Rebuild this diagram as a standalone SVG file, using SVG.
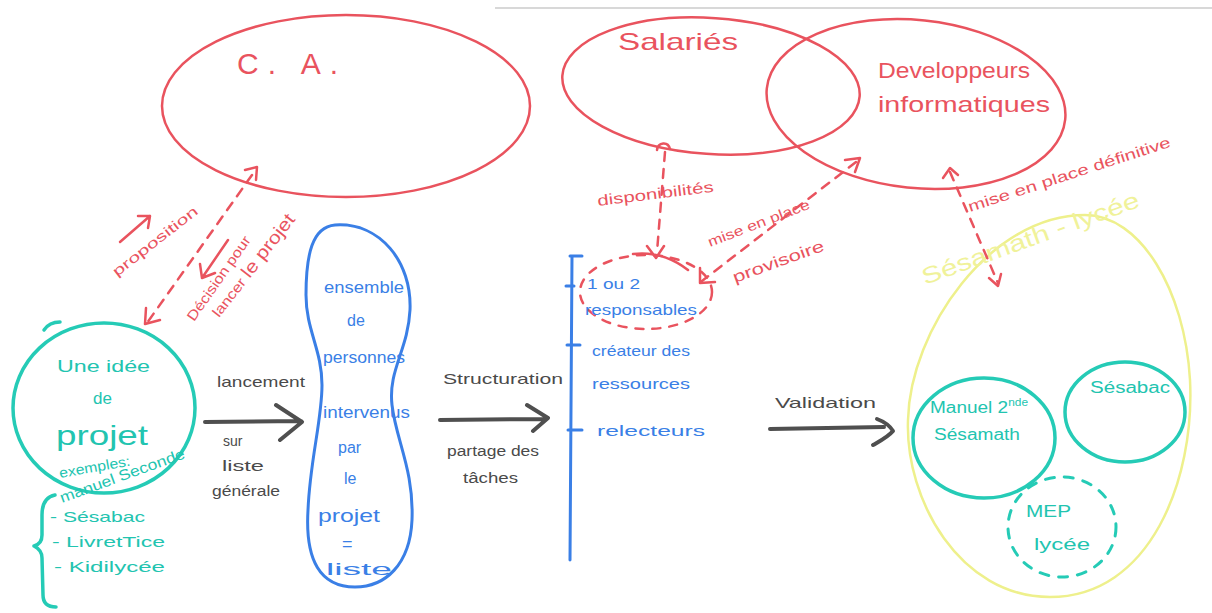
<svg xmlns="http://www.w3.org/2000/svg" width="1212" height="613" viewBox="0 0 1212 613">
<style>
text{font-family:"Liberation Sans","DejaVu Sans",sans-serif;}
.red{fill:none;stroke:#e9535e;stroke-width:2.5;stroke-linecap:round;stroke-linejoin:round}
.redd{fill:none;stroke:#e9535e;stroke-width:2.5;stroke-linecap:round;stroke-dasharray:9 8}
.rt{fill:#e9535e}
.teal{fill:none;stroke:#25cbb6;stroke-width:3.5;stroke-linecap:round;stroke-linejoin:round}
.tt{fill:#22c4b0}
.blue{fill:none;stroke:#3a7fe6;stroke-width:3;stroke-linecap:round;stroke-linejoin:round}
.bt{fill:#3a7fe6}
.grey{fill:none;stroke:#4f4f4f;stroke-width:4;stroke-linecap:round;stroke-linejoin:round}
.gt{fill:#4a4a4a}
.yel{fill:none;stroke:#eef08c;stroke-width:2.5}
</style>
<rect width="1212" height="613" fill="#ffffff"/>
<line x1="495" y1="8" x2="1212" y2="8" stroke="#d8d8d8" stroke-width="2"/>

<g id="ca">
<ellipse class="red" cx="346" cy="106" rx="184" ry="91"/>
<text class="rt" x="237" y="74" font-size="30" letter-spacing="9">C. A.</text>
</g>

<g id="salaries">
<ellipse class="red" cx="711" cy="86" rx="149" ry="68" transform="rotate(4 711 86)"/>
<text class="rt" x="618" y="50" font-size="24" textLength="120" lengthAdjust="spacingAndGlyphs">Salariés</text>
</g>

<g id="developpeurs">
<ellipse class="red" cx="916" cy="104" rx="150" ry="84" transform="rotate(6 916 104)"/>
<text class="rt" x="878" y="78" font-size="22" textLength="152" lengthAdjust="spacingAndGlyphs">Developpeurs</text>
<text class="rt" x="878" y="112" font-size="22" textLength="172" lengthAdjust="spacingAndGlyphs">informatiques</text>
</g>

<g id="idee">
<ellipse class="teal" cx="104" cy="408" rx="91" ry="85"/>
<path class="teal" d="M44,330 C48,324 54,322 60,322"/>
<text class="tt" x="57" y="372" font-size="17" textLength="93" lengthAdjust="spacingAndGlyphs">Une idée</text>
<text class="tt" x="93" y="404" font-size="17">de</text>
<text class="tt" x="56" y="445" font-size="28" textLength="92" lengthAdjust="spacingAndGlyphs">projet</text>
<text class="tt" x="60" y="478" font-size="14" textLength="72" lengthAdjust="spacingAndGlyphs" transform="rotate(-10 60 478)">exemples:</text>
<text class="tt" x="62" y="503" font-size="15" textLength="132" lengthAdjust="spacingAndGlyphs" transform="rotate(-20 62 503)">manuel Seconde</text>
<path class="teal" d="M55,495 C45,497 42,505 42,515 L42,535 C42,542 38,545 34,546 C38,548 42,551 42,558 L43,595 C43,603 47,607 56,607"/>
<text class="tt" x="50" y="522" font-size="15" textLength="95" lengthAdjust="spacingAndGlyphs">- Sésabac</text>
<text class="tt" x="52" y="547" font-size="15" textLength="113" lengthAdjust="spacingAndGlyphs">- LivretTice</text>
<text class="tt" x="54" y="572" font-size="15" textLength="111" lengthAdjust="spacingAndGlyphs">- Kidilycée</text>
</g>

<g id="liste">
<path class="blue" d="M335,225 C380,222 412,262 410,310 C408,350 388,370 392,405 C396,440 414,470 412,520 C410,565 385,587 355,587 C320,587 305,560 308,510 C310,460 322,420 322,385 C322,350 306,330 306,295 C306,255 312,227 335,225 Z"/>
<text class="bt" x="324" y="293" font-size="16" textLength="80" lengthAdjust="spacingAndGlyphs">ensemble</text>
<text class="bt" x="347" y="326" font-size="16">de</text>
<text class="bt" x="323" y="363" font-size="16" textLength="82" lengthAdjust="spacingAndGlyphs">personnes</text>
<text class="bt" x="323" y="418" font-size="16" textLength="87" lengthAdjust="spacingAndGlyphs">intervenus</text>
<text class="bt" x="338" y="453" font-size="16">par</text>
<text class="bt" x="344" y="484" font-size="16">le</text>
<text class="bt" x="318" y="522" font-size="19" textLength="62" lengthAdjust="spacingAndGlyphs">projet</text>
<text class="bt" x="342" y="550" font-size="18">=</text>
<text class="bt" x="326" y="575" font-size="17" textLength="66" lengthAdjust="spacingAndGlyphs">liste</text>
</g>

<g id="structure">
<path class="blue" d="M570,256 L582,256 M572,256 L570,560 M566,286 L574,286 M567,345 L580,345 M568,430 L582,430"/>
<ellipse cx="646" cy="292" rx="66" ry="37" fill="none" stroke="#e9535e" stroke-width="2.5" stroke-dasharray="8 9" stroke-linecap="round"/>
<text class="bt" x="587" y="289" font-size="15" textLength="53" lengthAdjust="spacingAndGlyphs">1 ou 2</text>
<text class="bt" x="585" y="315" font-size="15" textLength="112" lengthAdjust="spacingAndGlyphs">responsables</text>
<text class="bt" x="592" y="356" font-size="15" textLength="98" lengthAdjust="spacingAndGlyphs">créateur des</text>
<text class="bt" x="592" y="389" font-size="15" textLength="98" lengthAdjust="spacingAndGlyphs">ressources</text>
<text class="bt" x="597" y="436" font-size="15" textLength="108" lengthAdjust="spacingAndGlyphs">relecteurs</text>
</g>

<g id="sesamath-lycee">
<path class="yel" d="M1085,215 C1140,215 1185,290 1190,380 C1195,480 1150,597 1050,597 C960,597 905,500 908,420 C910,330 990,215 1085,215 Z"/>
<text x="925" y="285" font-size="23" fill="#f0f29a" textLength="230" lengthAdjust="spacingAndGlyphs" transform="rotate(-20 925 285)">Sésamath - lycée</text>
</g>

<g id="manuel">
<ellipse class="teal" cx="984" cy="438" rx="71" ry="60"/>
<text class="tt" x="930" y="413" font-size="16" textLength="98" lengthAdjust="spacingAndGlyphs">Manuel 2<tspan font-size="10" dy="-7">nde</tspan></text>
<text class="tt" x="934" y="440" font-size="16" textLength="86" lengthAdjust="spacingAndGlyphs">Sésamath</text>
</g>

<g id="sesabac">
<ellipse class="teal" cx="1125" cy="412" rx="60" ry="50"/>
<text class="tt" x="1090" y="393" font-size="16" textLength="80" lengthAdjust="spacingAndGlyphs">Sésabac</text>
</g>

<g id="mep">
<ellipse cx="1062" cy="527" rx="54" ry="50" fill="none" stroke="#25cbb6" stroke-width="3" stroke-dasharray="9 10" stroke-linecap="round"/>
<text class="tt" x="1026" y="517" font-size="16" textLength="45" lengthAdjust="spacingAndGlyphs">MEP</text>
<text class="tt" x="1034" y="550" font-size="16" textLength="56" lengthAdjust="spacingAndGlyphs">lycée</text>
</g>

<g id="connectors">
<path class="grey" d="M205,422 L301,421 M276,405 L302,422 L280,440"/>
<text class="gt" x="217" y="387" font-size="15" textLength="88" lengthAdjust="spacingAndGlyphs">lancement</text>
<text class="gt" x="223" y="446" font-size="14">sur</text>
<text class="gt" x="222" y="471" font-size="14" textLength="42" lengthAdjust="spacingAndGlyphs">liste</text>
<text class="gt" x="212" y="496" font-size="14" textLength="68" lengthAdjust="spacingAndGlyphs">générale</text>

<path class="grey" d="M440,420 L546,419 M527,405 L548,418 L533,431"/>
<text class="gt" x="443" y="384" font-size="15" textLength="120" lengthAdjust="spacingAndGlyphs">Structuration</text>
<text class="gt" x="447" y="456" font-size="14" textLength="92" lengthAdjust="spacingAndGlyphs">partage des</text>
<text class="gt" x="463" y="483" font-size="14" textLength="55" lengthAdjust="spacingAndGlyphs">tâches</text>

<path class="grey" d="M770,429 L884,427 M877,419 C885,422 890,426 893,431 C888,437 880,441 873,445"/>
<text class="gt" x="775" y="408" font-size="15" textLength="101" lengthAdjust="spacingAndGlyphs">Validation</text>

<path class="redd" d="M252,175 L147,323"/>
<path class="red" d="M245,170 L257,167 L256,180"/>
<path class="red" d="M146,308 L145,324 L160,320"/>
<path class="red" d="M120,242 L150,216 M138,216 L150,216 L148,228"/>
<text class="rt" x="117" y="277" font-size="14" textLength="104" lengthAdjust="spacingAndGlyphs" transform="rotate(-38 117 277)">proposition</text>
<path class="red" d="M228,240 L202,278 M200,264 L202,278 L215,273"/>
<text class="rt" x="194" y="322" font-size="14" textLength="100" lengthAdjust="spacingAndGlyphs" transform="rotate(-55 194 322)">Décision pour</text>
<text class="rt" x="219" y="318" font-size="14" textLength="125" lengthAdjust="spacingAndGlyphs" transform="rotate(-52 219 318)">lancer <tspan font-size="18">le projet</tspan></text>

<path class="redd" d="M665,152 L657,252"/>
<path class="red" d="M657,150 C658,142 668,141 670,149"/>
<path class="red" d="M647,246 L656,258 L664,246 M633,254 C650,252 670,256 688,270"/>
<text class="rt" x="598" y="206" font-size="15" textLength="117" lengthAdjust="spacingAndGlyphs" transform="rotate(-7 598 206)">disponibilités</text>

<path class="redd" d="M856,162 L702,281"/>
<path class="red" d="M845,160 L860,158 L855,172"/>
<path class="red" d="M700,268 L700,283 L715,282"/>
<text class="rt" x="710" y="247" font-size="14" textLength="108" lengthAdjust="spacingAndGlyphs" transform="rotate(-21 710 247)">mise en place</text>
<text class="rt" x="735" y="283" font-size="16" textLength="96" lengthAdjust="spacingAndGlyphs" transform="rotate(-20 735 283)">provisoire</text>

<path class="redd" d="M950,172 L998,283"/>
<path class="red" d="M943,178 L950,168 L958,175"/>
<path class="red" d="M989,278 L998,286 L1001,274"/>
<text class="rt" x="970" y="212" font-size="15" textLength="212" lengthAdjust="spacingAndGlyphs" transform="rotate(-18 970 212)">mise en place définitive</text>
</g>
</svg>
